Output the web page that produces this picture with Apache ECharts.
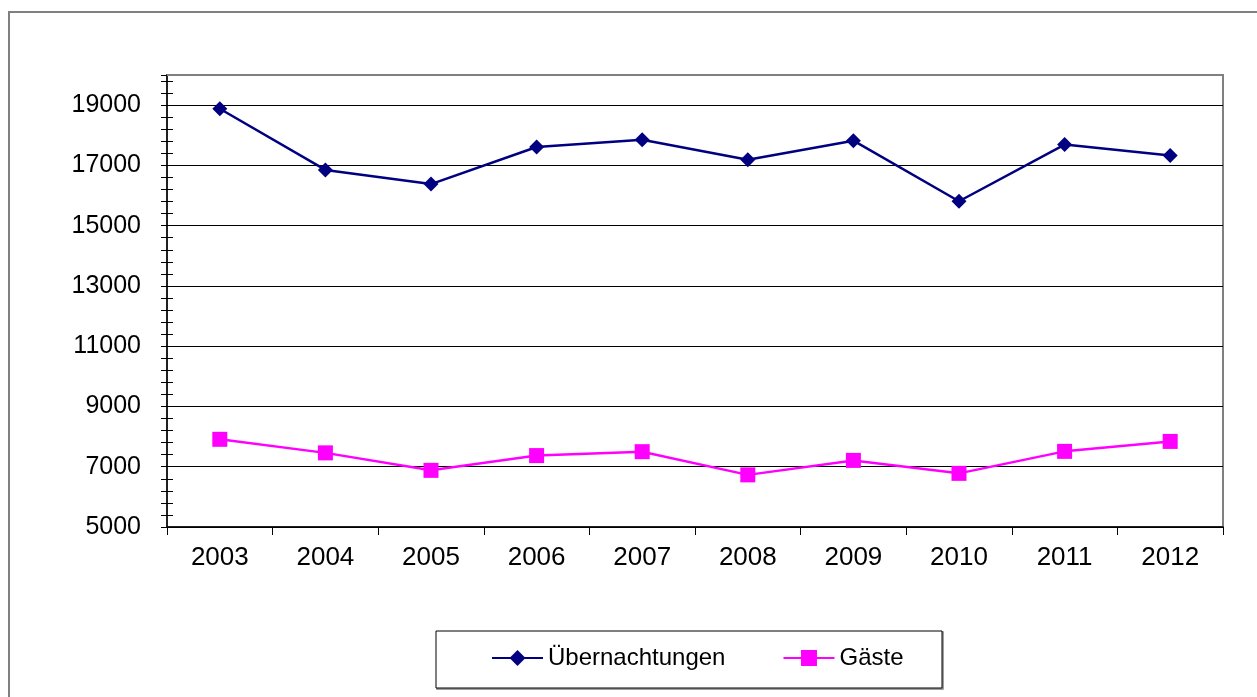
<!DOCTYPE html>
<html>
<head>
<meta charset="utf-8">
<script src="https://cdn.jsdelivr.net/npm/echarts@6/dist/echarts.min.js"></script>
<style>
html,body{margin:0;padding:0;background:#fff;}
#c{width:1257px;height:697px;}
</style>
</head>
<body>
<div id="c"></div>
<script>
const years = ['2003','2004','2005','2006','2007','2008','2009','2010','2011','2012'];
const uebernachtungen = [18880, 16850, 16380, 17610, 17850, 17190, 17820, 15810, 17690, 17330];
const gaeste = [7910, 7460, 6880, 7370, 7500, 6730, 7210, 6780, 7510, 7840];
const yMin = 5000, yMax = 20000, yStep = 2000, yMinorStep = 400;

const font = '"Liberation Sans", Arial, sans-serif';
const chart = echarts.init(document.getElementById('c'), null, {renderer: 'canvas'});
const tickAxis = (inside) => ({
  type: 'value', position: 'left', min: yMin, max: yMax, interval: yMinorStep,
  axisLine: {show: false}, axisLabel: {show: false}, splitLine: {show: false},
  axisTick: {show: true, inside: inside, length: 6, lineStyle: {color: '#000', width: 1}}
});
chart.setOption({
  animation: false,
  backgroundColor: '#fff',
  textStyle: {fontFamily: font},
  graphic: [
    {type: 'rect', silent: true, z: 0, shape: {x: 9, y: 12, width: 1300, height: 800},
     style: {fill: 'none', stroke: '#808080', lineWidth: 2}},
    {type: 'rect', silent: true, z: 0, shape: {x: 437, y: 632, width: 506, height: 57},
     style: {fill: 'none', stroke: '#808080', lineWidth: 1.5}},
    {type: 'rect', silent: true, z: 1, shape: {x: 436, y: 631, width: 506, height: 57},
     style: {fill: '#fff', stroke: '#000', lineWidth: 1}},
    {type: 'line', silent: true, z: 100, shape: {x1: 167, y1: 75, x2: 1224, y2: 75},
     style: {stroke: '#808080', lineWidth: 2}}
  ],
  grid: {left: 167, top: 75, width: 1056, height: 452, show: true,
         borderColor: '#808080', borderWidth: 2, backgroundColor: 'transparent'},
  legend: {
    left: 491, top: 646, padding: 0, itemWidth: 51, itemHeight: 20, itemGap: 57,
    z: 5,
    textStyle: {fontSize: 24, color: '#000', fontFamily: font},
    data: ['Übernachtungen', 'Gäste']
  },
  xAxis: {
    type: 'category', data: years, boundaryGap: true,
    axisLine: {show: true, onZero: false, lineStyle: {color: '#000', width: 1.5}},
    axisTick: {show: true, length: 8, alignWithLabel: false, lineStyle: {color: '#000', width: 1}},
    axisLabel: {fontSize: 26, color: '#000', margin: 18, fontFamily: font},
    splitLine: {show: false}
  },
  yAxis: [
    {
      type: 'value', position: 'left', min: yMin, max: yMax, interval: yStep,
      axisLine: {show: true, lineStyle: {color: '#000', width: 1.5}},
      axisTick: {show: false},
      axisLabel: {fontSize: 25, color: '#000', margin: 26, showMaxLabel: false, fontFamily: font,
                  formatter: (v) => String(v)},
      splitLine: {show: true, lineStyle: {color: '#000', width: 1}}
    },
    tickAxis(false),
    tickAxis(true)
  ],
  series: [
    {
      name: 'Übernachtungen', type: 'line', yAxisIndex: 0, data: uebernachtungen,
      symbol: 'diamond', symbolSize: 15,
      lineStyle: {color: '#000080', width: 2.5},
      itemStyle: {color: '#000080'}
    },
    {
      name: 'Gäste', type: 'line', yAxisIndex: 0, data: gaeste,
      symbol: 'rect', symbolSize: 15,
      lineStyle: {color: '#FF00FF', width: 2.5},
      itemStyle: {color: '#FF00FF'}
    }
  ]
});
</script>
</body>
</html>
